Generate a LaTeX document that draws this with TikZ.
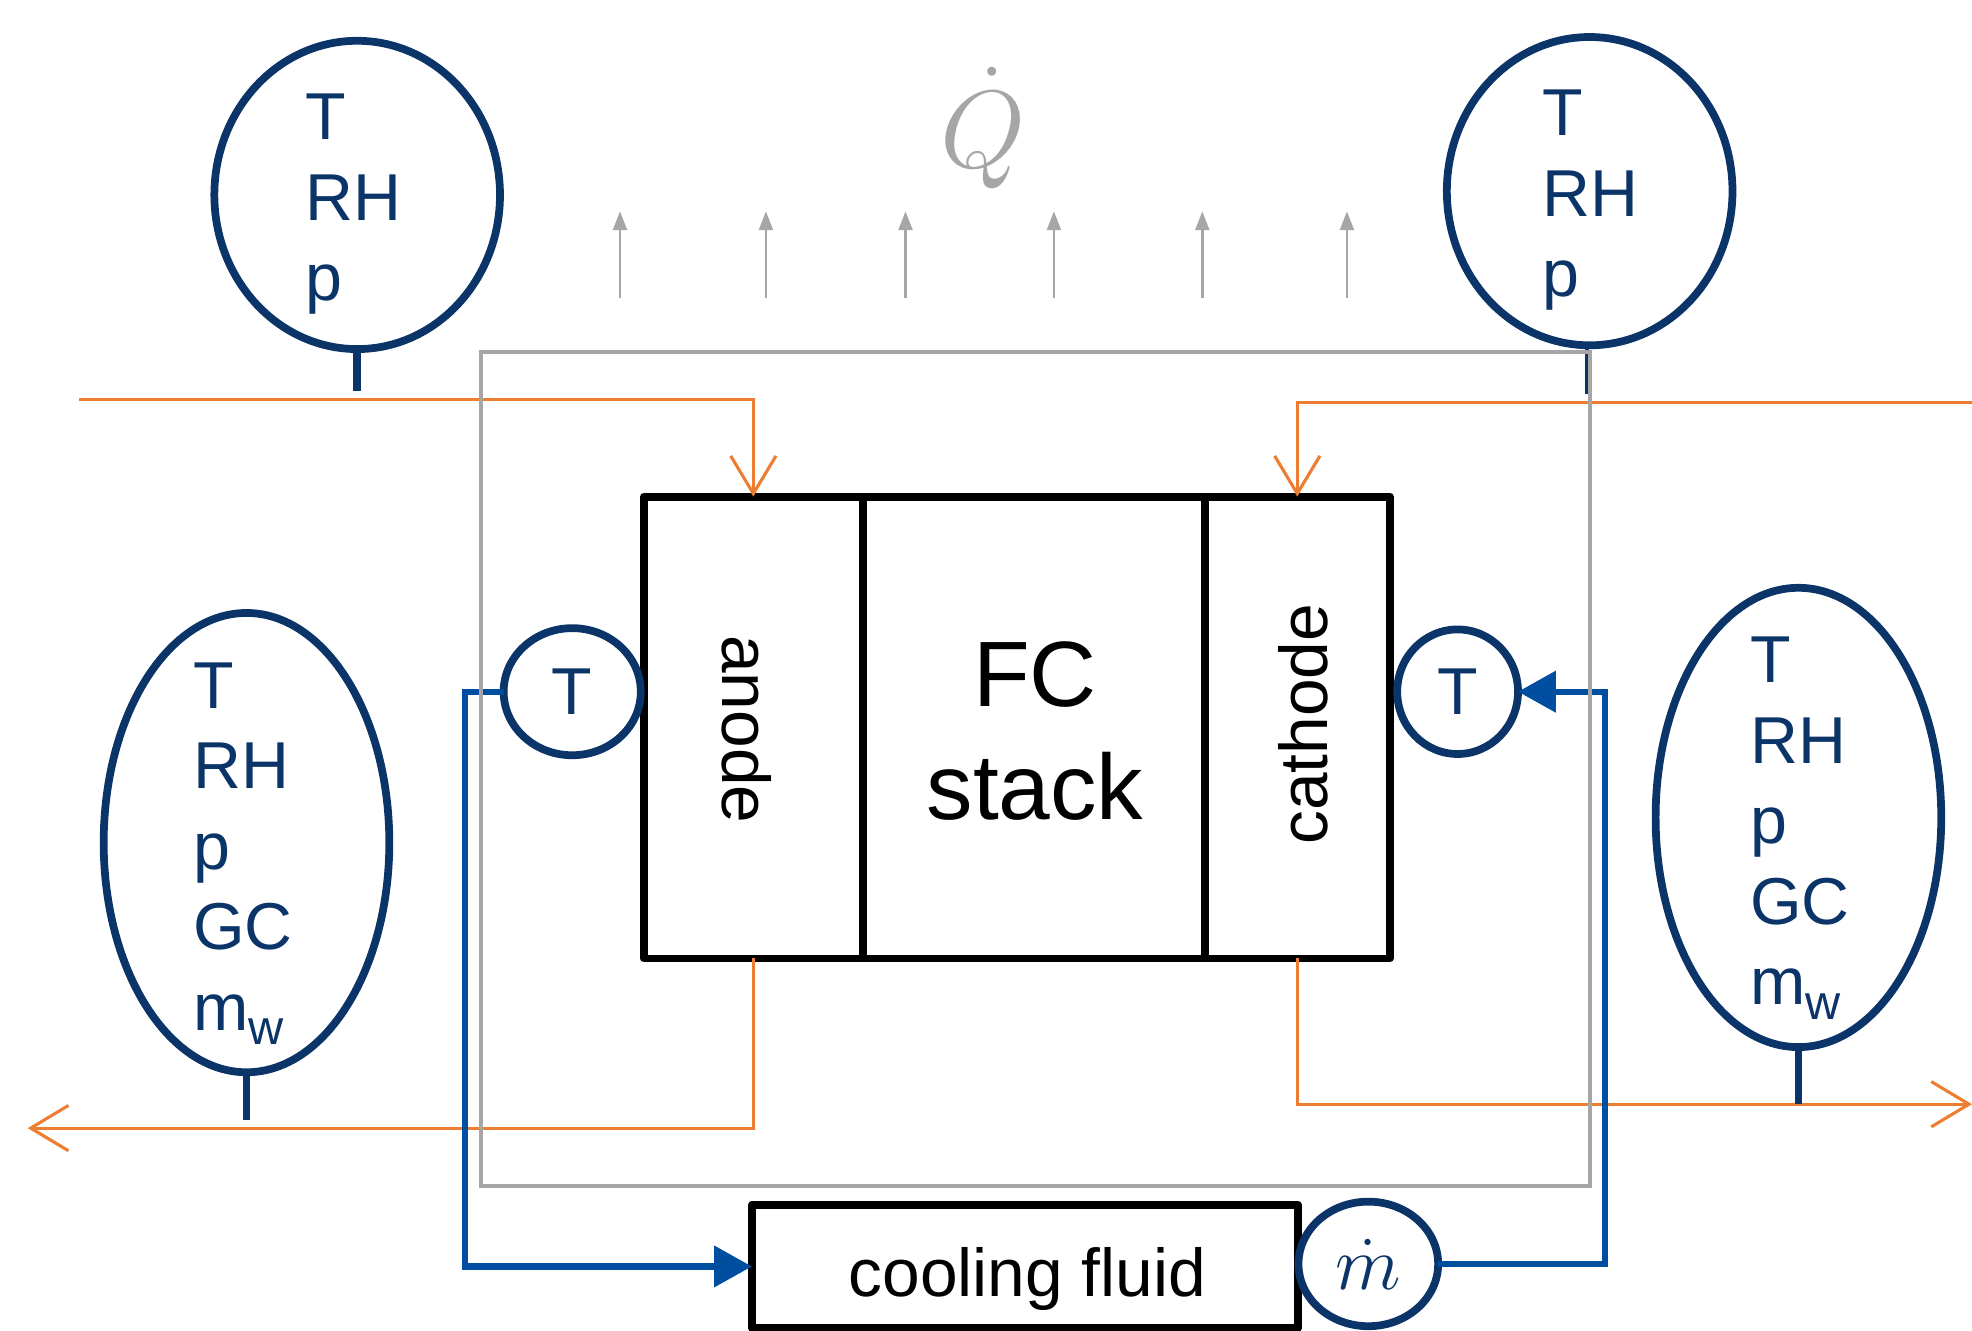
\documentclass[tikz,border=0pt]{standalone}
\usepackage{fontspec}
\setsansfont{Liberation Sans}
\usetikzlibrary{shapes.geometric,arrows.meta}
\definecolor{navy}{RGB}{11,52,104}
\definecolor{cblue}{RGB}{0,78,160}
\definecolor{corange}{RGB}{237,125,49}
\definecolor{cgray}{RGB}{166,166,166}
\newcommand{\mwsub}{m\raisebox{-0.22em}{\fontsize{11}{11}\selectfont w}}
\begin{document}
\begin{tikzpicture}[x=0.01cm,y=-0.01cm,
  meas/.style={ellipse, draw=navy, line width=1.75pt, inner sep=0pt, outer sep=0pt, minimum width=2.27cm},
  meastext/.style={text=navy, font=\sffamily\fontsize{15}{18.2}\selectfont, align=left, inner sep=0pt, anchor=north west},
  stem/.style={draw=navy, line width=1.75pt},
  heat/.style={draw=cgray, line width=0.6pt, -{Triangle[length=1.5mm,width=1.1mm]}},
  gas/.style={draw=corange, line width=0.7pt, -{Straight Barb[length=3mm,width=3.6mm]}},
  cool/.style={draw=cblue, line width=1.4pt, -{Triangle[length=3mm,width=3.2mm]}},
  blk/.style={draw=black, line width=1.75pt, line join=round, inner sep=0pt, outer sep=0pt},
  sensor/.style={ellipse, draw=navy, line width=1.75pt, inner sep=0pt, outer sep=0pt, text=navy, fill=white},
  lbl/.style={font=\sffamily\fontsize{15.3}{18}\selectfont, inner sep=0pt}
]
\useasboundingbox (0,0) rectangle (1568,1058);

% FC stack boxes
\node[blk, minimum width=1.74cm, minimum height=3.67cm] (an) at (599,578.5) {};
\node[blk, minimum width=2.72cm, minimum height=3.67cm] (st) at (822,578.5) {};
\node[blk, minimum width=1.47cm, minimum height=3.67cm] (ca) at (1031.5,578.5) {};
\node[lbl, rotate=-90] (anl) at (594,580) {anode};
\node[lbl, rotate=90] (cal) at (1036,576) {cathode};
\node[font=\sffamily\fontsize{21}{25.6}\selectfont, align=center, inner sep=0pt] (stl) at (823,581) {FC\\stack};

% cooling fluid box
\node[blk, minimum width=4.34cm, minimum height=0.98cm] (cf) at (815,1007) {};
\node[lbl] (cfl) at (817,1017) {cooling fluid};

% gas streams
\coordinate (ain) at (63,318);
\coordinate (cin) at (1568,320);
\coordinate (aout) at (22,897);
\coordinate (cout) at (1568,878);
\draw[gas] (ain) -| (an.north);
\draw[gas] (cin) -| (ca.north);
\draw[gas] (an.south) |- (aout);
\draw[gas] (ca.south) |- (cout);

% sensors
\node[sensor, minimum width=1.09cm, minimum height=1.01cm, font=\sffamily\fontsize{15}{18}\selectfont] (tA) at (455,550) {T};
\node[sensor, minimum width=0.96cm, minimum height=0.99cm, font=\sffamily\fontsize{15}{18}\selectfont] (tC) at (1159,550) {T};
\node[sensor, minimum width=1.11cm, minimum height=0.99cm, font=\fontsize{17}{20}\selectfont] (md) at (1088,1005) {$\dot{m}$};

% cooling loop
\draw[cool] (tA.west) -- (370,550) |- (cf.west);
\draw[cool] (md.east) -- (1276,1005) |- (tC.east);

% measurement ellipses
\node[meas, minimum height=2.45cm] (tl) at (284,155) {};
\node[meas, minimum height=2.45cm] (tr) at (1264,152) {};
\node[meas, minimum height=3.65cm] (bl) at (196,670) {};
\node[meas, minimum height=3.65cm] (br) at (1430,650) {};
\node[meastext] (tlt) at (242,74) {T\\RH\\p};
\node[meastext] (trt) at (1226,71) {T\\RH\\p};
\node[meastext] (blt) at (153,526) {T\\RH\\p\\GC\\\mwsub};
\node[meastext] (brt) at (1391,506) {T\\RH\\p\\GC\\\mwsub};
\draw[stem] (tl.south) -- ++(0,33);
\draw[stem, line width=1pt] ([xshift=-0.02cm]tr.south) -- ++(0,39);
\draw[stem] (bl.south) -- ++(0,38);
\draw[stem] (br.south) -- (br.south |- cout);

% housing
\node[draw=cgray, line width=0.95pt, inner sep=0pt, outer sep=0pt, minimum width=8.81cm, minimum height=6.63cm] (hs) at (823.5,611.5) {};

% heat flux
\foreach \x in {493,609,720,838,956,1071} {
  \draw[heat] (\x,237) -- (\x,168);
}
\node[text=cgray, font=\fontsize{23}{28}\selectfont, inner sep=0pt, anchor=base] (Q) at (782,133) {$\dot{Q}$};
\end{tikzpicture}
\end{document}
